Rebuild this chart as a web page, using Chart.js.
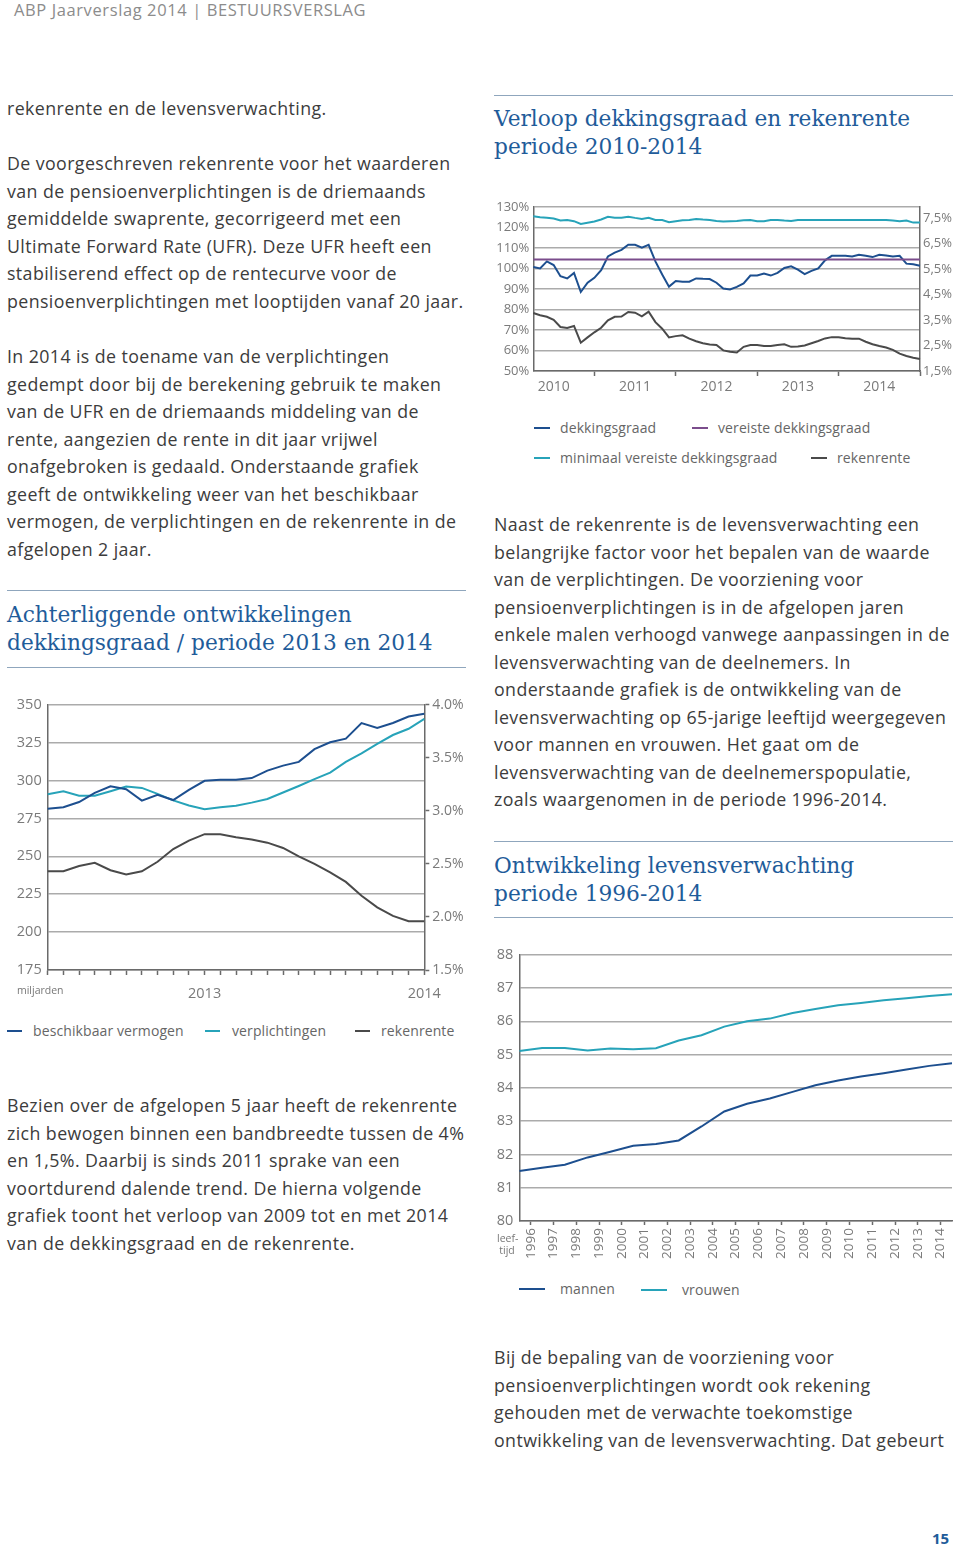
<!DOCTYPE html>
<html lang="nl">
<head>
<meta charset="utf-8">
<title>ABP Jaarverslag 2014</title>
<script src="https://cdn.jsdelivr.net/npm/chart.js@4.4.1/dist/chart.umd.min.js"></script>
<style>
  body { margin:0; background:#fff; }
  #page { position:relative; width:960px; height:1545px; overflow:hidden; font-family:"Open Sans", sans-serif; color:#3c3c3c; }
  .abs { position:absolute; }
  .head { left:14px; top:0px; font-size:16.5px; color:#8c8c8c; line-height:20px; letter-spacing:0.6px; }
  .txt { font-size:17.8px; line-height:27.5px; white-space:nowrap; letter-spacing:0.4px; }
  .title { font-family:"DejaVu Serif", serif; font-size:21.7px; line-height:28px; color:#1f5c9a; white-space:nowrap; }
  .rule { height:0; border-top:1.5px solid #8fa6bd; }
  .leg { font-size:14px; color:#666; line-height:18px; white-space:nowrap; letter-spacing:0.1px; }
  .sw { position:absolute; height:2px; }
  .small { font-size:10.5px; color:#777; line-height:12px; }
</style>
</head>
<body>
<div id="page">
  <div class="abs head">ABP Jaarverslag 2014 | BESTUURSVERSLAG</div>

  <!-- linker kolom -->
  <div class="abs txt" style="left:7px;top:95px;">rekenrente en de levensverwachting.</div>
  <div class="abs txt" style="left:7px;top:150px;">De voorgeschreven rekenrente voor het waarderen<br>van de pensioenverplichtingen is de driemaands<br>gemiddelde swaprente, gecorrigeerd met een<br>Ultimate Forward Rate (UFR). Deze UFR heeft een<br>stabiliserend effect op de rentecurve voor de<br>pensioenverplichtingen met looptijden vanaf 20 jaar.</div>
  <div class="abs txt" style="left:7px;top:343px;">In 2014 is de toename van de verplichtingen<br>gedempt door bij de berekening gebruik te maken<br>van de UFR en de driemaands middeling van de<br>rente, aangezien de rente in dit jaar vrijwel<br>onafgebroken is gedaald. Onderstaande grafiek<br>geeft de ontwikkeling weer van het beschikbaar<br>vermogen, de verplichtingen en de rekenrente in de<br>afgelopen 2 jaar.</div>
  <div class="abs rule" style="left:7px;top:590px;width:459px;"></div>
  <div class="abs title" style="left:7px;top:601px;">Achterliggende ontwikkelingen<br>dekkingsgraad / periode 2013 en 2014</div>
  <div class="abs rule" style="left:7px;top:667px;width:459px;"></div>

  <div class="abs" style="left:0;top:690px;width:475px;height:315px;"><canvas id="chartVermogen"></canvas></div>
  <div class="abs small" style="left:17px;top:984px;">miljarden</div>

  <div class="abs leg" style="left:0;top:1022px;width:470px;height:18px;">
    <span class="sw" style="left:7px;top:8px;width:15px;background:#1d4f8f;"></span>
    <span class="abs" style="left:33px;top:0;">beschikbaar vermogen</span>
    <span class="sw" style="left:205px;top:8px;width:15px;background:#27a3b9;"></span>
    <span class="abs" style="left:232px;top:0;">verplichtingen</span>
    <span class="sw" style="left:355px;top:8px;width:15px;background:#4a4a4a;"></span>
    <span class="abs" style="left:381px;top:0;">rekenrente</span>
  </div>

  <div class="abs txt" style="left:7px;top:1092px;">Bezien over de afgelopen 5 jaar heeft de rekenrente<br>zich bewogen binnen een bandbreedte tussen de 4%<br>en 1,5%. Daarbij is sinds 2011 sprake van een<br>voortdurend dalende trend. De hierna volgende<br>grafiek toont het verloop van 2009 tot en met 2014<br>van de dekkingsgraad en de rekenrente.</div>

  <!-- rechter kolom -->
  <div class="abs rule" style="left:494px;top:95px;width:459px;"></div>
  <div class="abs title" style="left:494px;top:105px;">Verloop dekkingsgraad en rekenrente<br>periode 2010-2014</div>

  <div class="abs" style="left:490px;top:195px;width:470px;height:205px;"><canvas id="chartDekking"></canvas></div>

  <div class="abs leg" style="left:490px;top:419px;width:470px;height:48px;">
    <span class="sw" style="left:44px;top:8px;width:16px;background:#1d4f8f;"></span>
    <span class="abs" style="left:70px;top:0;">dekkingsgraad</span>
    <span class="sw" style="left:202px;top:8px;width:16px;background:#7b4d8c;"></span>
    <span class="abs" style="left:228px;top:0;">vereiste dekkingsgraad</span>
    <span class="sw" style="left:44px;top:38px;width:16px;background:#27a3b9;"></span>
    <span class="abs" style="left:70px;top:30px;">minimaal vereiste dekkingsgraad</span>
    <span class="sw" style="left:321px;top:38px;width:16px;background:#4a4a4a;"></span>
    <span class="abs" style="left:347px;top:30px;">rekenrente</span>
  </div>

  <div class="abs txt" style="left:494px;top:511px;">Naast de rekenrente is de levensverwachting een<br>belangrijke factor voor het bepalen van de waarde<br>van de verplichtingen. De voorziening voor<br>pensioenverplichtingen is in de afgelopen jaren<br>enkele malen verhoogd vanwege aanpassingen in de<br>levensverwachting van de deelnemers. In<br>onderstaande grafiek is de ontwikkeling van de<br>levensverwachting op 65-jarige leeftijd weergegeven<br>voor mannen en vrouwen. Het gaat om de<br>levensverwachting van de deelnemerspopulatie,<br>zoals waargenomen in de periode 1996-2014.</div>

  <div class="abs rule" style="left:494px;top:841px;width:459px;"></div>
  <div class="abs title" style="left:494px;top:852px;">Ontwikkeling levensverwachting<br>periode 1996-2014</div>
  <div class="abs rule" style="left:494px;top:917px;width:459px;"></div>

  <div class="abs" style="left:490px;top:940px;width:470px;height:330px;"><canvas id="chartLeven"></canvas></div>
  <div class="abs small" style="left:497px;top:1232px;text-align:center;width:20px;">leef-<br>tijd</div>

  <div class="abs leg" style="left:490px;top:1280px;width:470px;height:18px;">
    <span class="sw" style="left:29px;top:8px;width:26px;background:#1d4f8f;"></span>
    <span class="abs" style="left:70px;top:0;">mannen</span>
    <span class="sw" style="left:151px;top:9px;width:26px;background:#27a3b9;"></span>
    <span class="abs" style="left:192px;top:1px;">vrouwen</span>
  </div>

  <div class="abs txt" style="left:494px;top:1344px;">Bij de bepaling van de voorziening voor<br>pensioenverplichtingen wordt ook rekening<br>gehouden met de verwachte toekomstige<br>ontwikkeling van de levensverwachting. Dat gebeurt</div>

  <div class="abs" style="left:932px;top:1528px;font-size:15px;font-weight:bold;color:#1f5c9a;">15</div>
</div>

<script>
// ---- grafiek 1: beschikbaar vermogen / verplichtingen / rekenrente (2013-2014)
var bvLabels = ['', '', '', '', '', '', '', '', '', '', '2013', '', '', '', '', '', '', '', '', '', '', '', '', '', '2014'];
var beschikbaarVermogen = [281.3, 282.4, 285.8, 291.9, 296.2, 294.2, 286.7, 290.6, 287.1, 293.8, 299.8, 300.5, 300.5, 301.6, 306.5, 309.8, 312.3, 320.7, 325.2, 327.6, 337.9, 334.7, 337.9, 342.2, 344.0];
var verplichtingen = [291.0, 292.9, 289.9, 289.9, 292.9, 296.0, 295.1, 291.2, 286.9, 283.5, 281.1, 282.4, 283.3, 285.4, 287.8, 292.1, 296.4, 300.9, 305.2, 312.3, 317.9, 324.2, 330.0, 334.1, 340.7];
var rekenrente1 = [2.43, 2.43, 2.48, 2.51, 2.44, 2.40, 2.43, 2.52, 2.64, 2.72, 2.78, 2.78, 2.75, 2.73, 2.70, 2.65, 2.57, 2.50, 2.42, 2.33, 2.20, 2.09, 2.01, 1.96, 1.96];

// ---- grafiek 2: dekkingsgraad en rekenrente (apr 2010 - jan 2015)
var dgYears = ['2010', '2011', '2012', '2013', '2014'];
var dgMonths = [];
var maanden = ['jan', 'feb', 'mrt', 'apr', 'mei', 'jun', 'jul', 'aug', 'sep', 'okt', 'nov', 'dec'];
for (var j = 0; j < 58; j++) {
  var m = (j + 3) % 12;
  dgMonths.push(maanden[m] + ' ' + (2010 + Math.floor((j + 3) / 12)));
}
var dekkingsgraad = [100.7, 100.0, 103.4, 101.6, 96.2, 95.1, 97.8, 88.5, 93.0, 95.4, 99.1, 105.8, 107.7, 109.0, 111.5, 111.5, 110.1, 111.5, 103.4, 97.0, 91.1, 93.8, 93.5, 93.5, 95.1, 94.9, 94.8, 93.0, 90.2, 89.7, 91.0, 92.7, 96.5, 96.5, 97.5, 96.5, 97.8, 100.2, 101.0, 99.4, 97.2, 98.8, 100.0, 103.9, 106.1, 106.1, 106.1, 105.8, 106.6, 106.1, 105.5, 106.6, 106.3, 105.8, 106.1, 102.3, 102.0, 101.3];
var vereisteDg = 104.3;
var minimaalVereisteDg = [125.4, 124.9, 124.7, 124.3, 123.3, 123.6, 123.0, 121.6, 122.2, 122.8, 123.8, 125.1, 124.7, 124.7, 125.2, 124.6, 124.1, 124.6, 123.6, 123.6, 122.5, 123.0, 123.5, 123.6, 124.1, 123.8, 123.6, 123.1, 122.8, 123.0, 123.1, 123.5, 123.6, 123.0, 123.0, 123.6, 123.6, 123.3, 123.1, 123.6, 123.6, 123.6, 123.6, 123.6, 123.6, 123.6, 123.6, 123.6, 123.6, 123.6, 123.6, 123.6, 123.6, 123.3, 123.0, 123.3, 122.3, 122.3];
var rekenrente2 = [3.78, 3.69, 3.63, 3.51, 3.23, 3.19, 3.27, 2.61, 2.82, 3.02, 3.20, 3.49, 3.63, 3.64, 3.82, 3.79, 3.65, 3.83, 3.42, 3.16, 2.82, 2.87, 2.90, 2.77, 2.67, 2.59, 2.54, 2.52, 2.31, 2.26, 2.23, 2.45, 2.52, 2.52, 2.48, 2.48, 2.52, 2.55, 2.45, 2.46, 2.50, 2.59, 2.68, 2.78, 2.83, 2.83, 2.79, 2.77, 2.77, 2.65, 2.55, 2.48, 2.42, 2.33, 2.18, 2.09, 2.02, 1.97];
var dgRightTicks = [1.5, 2.5, 3.5, 4.5, 5.5, 6.5, 7.5];

// ---- grafiek 3: levensverwachting op 65 jaar
var levenJaren = ['1996', '1997', '1998', '1999', '2000', '2001', '2002', '2003', '2004', '2005', '2006', '2007', '2008', '2009', '2010', '2011', '2012', '2013', '2014'];
var mannen = [81.50, 81.60, 81.69, 81.91, 82.08, 82.26, 82.31, 82.42, 82.84, 83.29, 83.52, 83.68, 83.88, 84.08, 84.22, 84.34, 84.44, 84.55, 84.66, 84.74];
var vrouwen = [85.11, 85.20, 85.20, 85.12, 85.18, 85.16, 85.19, 85.42, 85.58, 85.84, 86.00, 86.08, 86.25, 86.37, 86.48, 86.55, 86.63, 86.69, 86.76, 86.81];

var donkerblauw = '#1d4f8f';
var turkoois = '#27a3b9';
var grijs = '#4a4a4a';
var paars = '#7b4d8c';
var gridKleur = '#ababab';
var asKleur = '#6a6a6a';
var fam = '"Open Sans", sans-serif';

Chart.defaults.color = '#7a7a7a';
Chart.defaults.animation = false;

function lijn(label, data, kleur, as) {
  return {label: label, data: data, borderColor: kleur, backgroundColor: kleur, borderWidth: 2,
          pointRadius: 0, tension: 0, fill: false, yAxisID: as};
}

window.onload = function() {
  // grafiek 1
  new Chart(document.getElementById('chartVermogen').getContext('2d'), {
    type: 'line',
    data: {labels: bvLabels,
           datasets: [lijn('beschikbaar vermogen', beschikbaarVermogen, donkerblauw, 'y'),
                      lijn('verplichtingen', verplichtingen, turkoois, 'y'),
                      lijn('rekenrente', rekenrente1, grijs, 'y1')]},
    options: {responsive: true, maintainAspectRatio: false,
      layout: {padding: {top: 9, left: 0, right: 0, bottom: 0}},
      plugins: {legend: {display: false}, tooltip: {enabled: false}},
      scales: {
        x: {offset: false, afterFit: function(s) { s.height = 35; },
            grid: {drawOnChartArea: false, tickLength: 5, tickColor: asKleur, tickWidth: 1.5},
            border: {color: asKleur, width: 1.5},
            ticks: {autoSkip: false, maxRotation: 0, padding: 10, font: {family: fam, size: 14.5}}},
        y: {position: 'left', min: 175, max: 350, afterFit: function(s) { s.width = 47.7; },
            ticks: {stepSize: 25, padding: 6, font: {family: fam, size: 14.5}},
            grid: {color: gridKleur, lineWidth: 1.5, drawTicks: false},
            border: {color: asKleur, width: 1.5}},
        y1: {position: 'right', min: 1.5, max: 4.0, afterFit: function(s) { s.width = 50.7; },
             ticks: {stepSize: 0.5, padding: 3, font: {family: fam, size: 14}, callback: function(v) { return v.toFixed(1) + '%'; }},
             grid: {drawOnChartArea: false, tickLength: 5, tickColor: asKleur, tickWidth: 1.5},
             border: {color: asKleur, width: 1.5}}
      }}
  });

  // grafiek 2
  new Chart(document.getElementById('chartDekking').getContext('2d'), {
    type: 'line',
    data: {labels: dgMonths,
           datasets: [lijn('minimaal vereiste dekkingsgraad', minimaalVereisteDg, turkoois, 'y'),
                      lijn('vereiste dekkingsgraad', [{x: dgMonths[0], y: vereisteDg}, {x: dgMonths[dgMonths.length - 1], y: vereisteDg}], paars, 'y'),
                      lijn('dekkingsgraad', dekkingsgraad, donkerblauw, 'y'),
                      lijn('rekenrente', rekenrente2, grijs, 'y1')]},
    options: {responsive: true, maintainAspectRatio: false,
      layout: {padding: {top: 10, left: 0, right: 0, bottom: 0}},
      plugins: {legend: {display: false}, tooltip: {enabled: false}},
      scales: {
        x: {offset: false, afterFit: function(s) { s.height = 29; },
            grid: {drawOnChartArea: false, tickLength: 5, tickWidth: 1.5,
                   tickColor: function(ctx) { return ctx.index % 12 === 9 ? asKleur : 'rgba(0,0,0,0)'; }},
            border: {color: asKleur, width: 1.5},
            ticks: {autoSkip: false, maxRotation: 0, padding: 3, font: {family: fam, size: 14},
                    callback: function(v, i) { return i % 12 === 3 ? dgYears[(i - 3) / 12] : ''; }}},
        y: {position: 'left', min: 50, max: 130, afterFit: function(s) { s.width = 43.3; },
            ticks: {stepSize: 10, padding: 4, font: {family: fam, size: 13}, callback: function(v) { return v + '%'; }},
            grid: {color: gridKleur, lineWidth: 1.5, drawTicks: false},
            border: {color: asKleur, width: 1.5}},
        y1: {position: 'right', min: 1.5, max: 7.95, afterFit: function(s) { s.width = 40; },
             afterBuildTicks: function(s) { s.ticks = dgRightTicks.map(function(v) { return {value: v}; }); },
             ticks: {padding: 3, font: {family: fam, size: 13}, callback: function(v) { return v.toFixed(1).replace('.', ',') + '%'; }},
             grid: {drawOnChartArea: false, drawTicks: false},
             border: {color: asKleur, width: 1.5}}
      }}
  });

  // grafiek 3
  function punten(reeks) {
    return reeks.map(function(v, i) { return {x: i, y: v}; });
  }
  new Chart(document.getElementById('chartLeven').getContext('2d'), {
    type: 'line',
    data: {datasets: [lijn('mannen', punten(mannen), donkerblauw, 'y'),
                      lijn('vrouwen', punten(vrouwen), turkoois, 'y')]},
    options: {responsive: true, maintainAspectRatio: false,
      layout: {padding: {top: 9, left: 0, right: 7, bottom: 0}},
      plugins: {legend: {display: false}, tooltip: {enabled: false}},
      scales: {
        x: {type: 'linear', min: 0, max: mannen.length - 1, afterFit: function(s) { s.height = 49; },
            afterBuildTicks: function(s) { s.ticks = levenJaren.map(function(j, i) { return {value: i + 0.5}; }); },
            grid: {drawOnChartArea: false, tickLength: 4, tickColor: asKleur, tickWidth: 1.5},
            border: {color: asKleur, width: 1.5},
            ticks: {autoSkip: false, minRotation: 90, maxRotation: 90, padding: 3, font: {family: fam, size: 13.5},
                    callback: function(v) { return levenJaren[Math.floor(v)]; }}},
        y: {min: 80, max: 88, afterFit: function(s) { s.width = 29.3; },
            ticks: {stepSize: 1, padding: 6, font: {family: fam, size: 14.5}},
            grid: {color: gridKleur, lineWidth: 1.5, drawTicks: false},
            border: {color: asKleur, width: 1.5}}
      }}
  });
};
</script>
</body>
</html>
